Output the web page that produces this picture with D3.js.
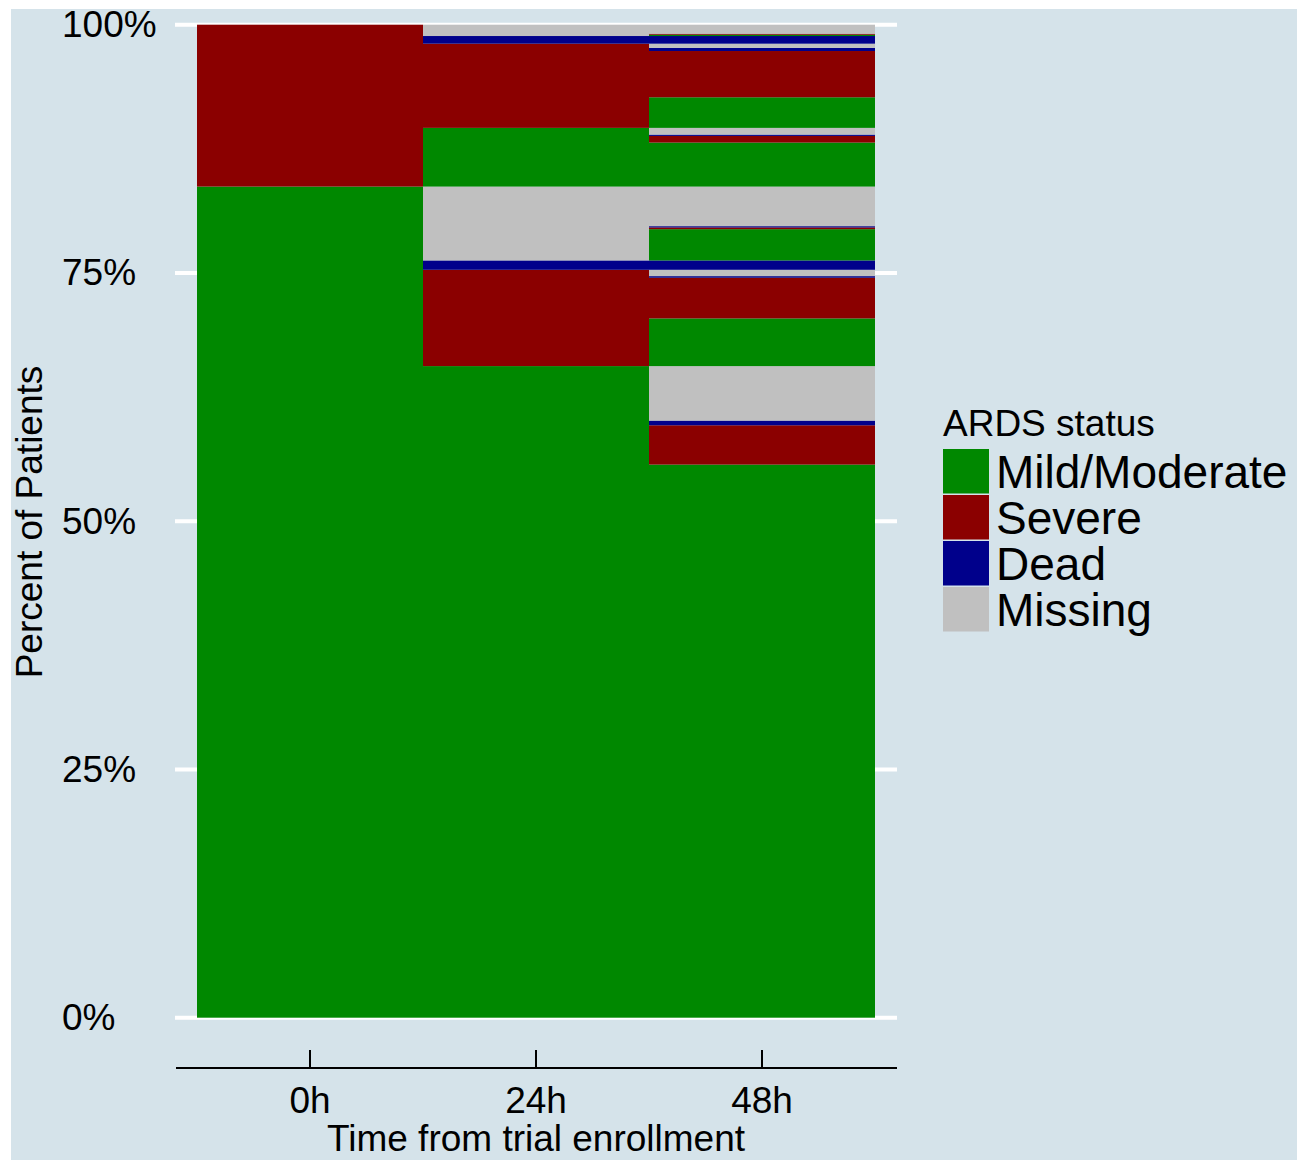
<!DOCTYPE html>
<html>
<head>
<meta charset="utf-8">
<script src="https://cdn.jsdelivr.net/npm/d3@7"></script>
<style>
  html, body { margin: 0; padding: 0; background: #ffffff; }
  svg { display: block; }
  text { font-family: "Liberation Sans", Arial, Helvetica, sans-serif; fill: #000; }
</style>
</head>
<body>
<svg id="chart" width="1306" height="1160"></svg>
<script>
// ---------------- data ----------------
const timepoints = ["0h", "24h", "48h"];
const statuses = ["Mild/Moderate", "Severe", "Dead", "Missing"];
const yTicks = [0, 25, 50, 75, 100];

// segments stacked bottom-to-top, percent of all patients
const status0h = ["Mild/Moderate", "Severe"];
const pct0h = [83.70, 16.30];

// 24h: nested within 0h Mild/Moderate, then within 0h Severe
const status24h = ["Mild/Moderate", "Severe", "Dead", "Missing",
                   "Mild/Moderate", "Severe", "Dead", "Missing"];
const pct24h = [65.62, 9.70, 0.94, 7.44,
                5.91, 8.48, 0.77, 1.14];

// 48h: nested within each 0h -> 24h path
const status48h = ["Mild/Moderate", "Severe", "Dead", "Missing",
                   "Mild/Moderate", "Severe", "Dead", "Missing",
                   "Dead",
                   "Mild/Moderate", "Severe", "Dead", "Missing",
                   "Mild/Moderate", "Severe", "Dead", "Missing",
                   "Mild/Moderate", "Severe", "Dead", "Missing",
                   "Dead",
                   "Mild/Moderate", "Severe", "Missing"];
const pct48h = [55.70, 3.96, 0.47, 5.49,
                4.80, 4.10, 0.16, 0.64,
                0.94,
                3.15, 0.17, 0.13, 3.99,
                4.43, 0.67, 0.13, 0.68,
                3.08, 4.66, 0.31, 0.43,
                0.77,
                0.13, 0.10, 0.91];

// ---------------- chart ----------------
const svg = d3.select("#chart");
const color = d3.scaleOrdinal()
  .domain(statuses)
  .range(["#008800", "#8b0000", "#00008b", "#c0c0c0"]);

svg.append("rect")
  .attr("x", 11).attr("y", 9)
  .attr("width", 1286).attr("height", 1151)
  .attr("fill", "#d5e3ea");

const x = d3.scaleBand().domain(timepoints).range([197, 875]).padding(0);
const y = d3.scaleLinear().domain([0, 100]).range([1017.7, 24.7]);

// gridlines
svg.append("g").selectAll("line")
  .data(yTicks)
  .join("line")
  .attr("x1", 175).attr("x2", 897)
  .attr("y1", d => y(d)).attr("y2", d => y(d))
  .attr("stroke", "#ffffff")
  .attr("stroke-width", 4);

// build segments
function segs(time, sts, vals) {
  const ends = d3.cumsum(vals);
  return vals.map((v, i) => ({
    time, status: sts[i],
    y0: ends[i] - v, y1: ends[i]
  }));
}
const allSegs = [
  ...segs("0h", status0h, pct0h),
  ...segs("24h", status24h, pct24h),
  ...segs("48h", status48h, pct48h)
];

svg.append("g").selectAll("rect")
  .data(allSegs)
  .join("rect")
  .attr("x", d => x(d.time))
  .attr("width", x.bandwidth())
  .attr("y", d => y(d.y1))
  .attr("height", d => Math.max(0, y(d.y0) - y(d.y1)))
  .attr("fill", d => color(d.status));

// y axis labels
const yAxis = svg.append("g")
  .call(d3.axisLeft(y).tickValues(yTicks).tickFormat(d => d + "%").tickSize(0));
yAxis.select(".domain").remove();
yAxis.selectAll("text")
  .attr("x", 62)
  .attr("text-anchor", "start")
  .style("font-size", "37px")
  .style("font-family", "'Liberation Sans', Arial, sans-serif")
  .attr("fill", "#000");

// x axis
const axisY = 1068;
svg.append("line")
  .attr("x1", 176).attr("x2", 897)
  .attr("y1", axisY).attr("y2", axisY)
  .attr("stroke", "#000").attr("stroke-width", 2);
const xAxis = svg.append("g")
  .attr("transform", `translate(0,${axisY})`)
  .call(d3.axisBottom(x).tickSizeInner(-18).tickSizeOuter(0).tickPadding(19));
xAxis.select(".domain").remove();
xAxis.selectAll(".tick line").attr("stroke", "#000").attr("stroke-width", 2);
xAxis.selectAll("text")
  .style("font-size", "37px")
  .style("font-family", "'Liberation Sans', Arial, sans-serif")
  .attr("fill", "#000");

// axis titles
svg.append("text")
  .attr("x", 536).attr("y", 1151)
  .attr("text-anchor", "middle")
  .style("font-size", "37px")
  .text("Time from trial enrollment");

svg.append("text")
  .attr("transform", "translate(42,522) rotate(-90)")
  .attr("text-anchor", "middle")
  .style("font-size", "37px")
  .text("Percent of Patients");

// legend
const lg = svg.append("g");
lg.append("text")
  .attr("x", 943).attr("y", 436)
  .style("font-size", "37px")
  .text("ARDS status");
const items = lg.selectAll("g.item")
  .data(statuses)
  .join("g")
  .attr("class", "item")
  .attr("transform", (d, i) => `translate(943,${449 + i * 46})`);
items.append("rect")
  .attr("width", 46).attr("height", 44.5)
  .attr("fill", d => color(d));
items.append("text")
  .attr("x", 53).attr("y", 39)
  .style("font-size", "46px")
  .text(d => d);
</script>
</body>
</html>
